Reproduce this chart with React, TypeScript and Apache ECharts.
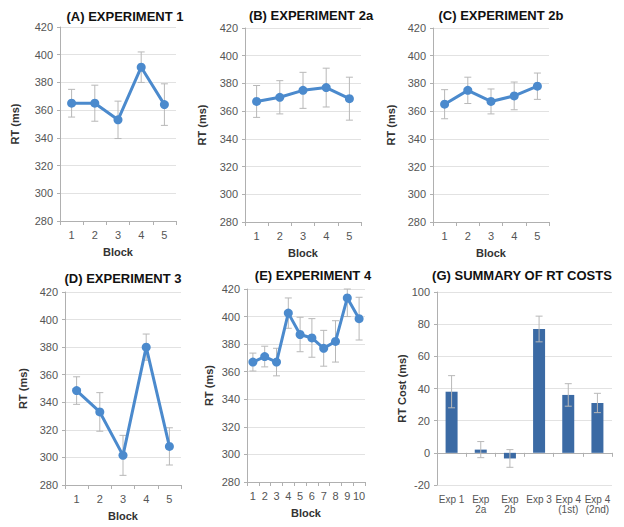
import React, { useEffect, useRef } from "react";
import * as echarts from "echarts";

const blocks5 = ["1", "2", "3", "4", "5"];
const blocks10 = ["1", "2", "3", "4", "5", "6", "7", "8", "9", "10"];

const rtA = [365, 365, 353, 391, 364];
const errA = [10, 13, 13.5, 11, 15];
const rtB = [367, 370, 375, 377, 369];
const errB = [11.5, 12, 13, 14, 15.5];
const rtC = [365, 375, 367, 371, 378];
const errC = [10.5, 9.5, 9, 10, 9.5];
const rtD = [348.5, 333, 301.5, 380, 308];
const errD = [10, 14, 14.5, 9.5, 13.5];
const rtE = [367, 371, 367, 402.5, 387, 384.5, 377, 382, 413.5, 398.5];
const errE = [6.5, 7.5, 10, 11, 12.5, 14, 13, 15, 13.5, 15.5];

const summaryCats = ["Exp 1", "Exp\n2a", "Exp\n2b", "Exp 3", "Exp 4\n(1st)", "Exp 4\n(2nd)"];
const costG = [38, 2, -3.5, 77, 36, 31];
const errG = [10, 5, 5.5, 8, 7, 6];

const rtTicks = { min: 280, max: 420, interval: 20 };
const costTicks = { min: -20, max: 100, interval: 20 };

const titles = [
  { text: "(A) EXPERIMENT 1", x: 125, y: 16 },
  { text: "(B) EXPERIMENT 2a", x: 311, y: 15 },
  { text: "(C) EXPERIMENT 2b", x: 501, y: 15 },
  { text: "(D) EXPERIMENT 3", x: 123, y: 278 },
  { text: "(E) EXPERIMENT 4", x: 313, y: 275 },
  { text: "(G) SUMMARY OF RT COSTS", x: 522, y: 275 },
];

const FONT = "Arial, 'Liberation Sans', sans-serif";
const LINE_COLOR = "#4b8acd";
const BAR_COLOR = "#3b6aa4";
const ERR_COLOR = "#b8b8b8";
const AXIS_COLOR = "#b0b0b0";
const GRID_COLOR = "#e2e2e2";
const LABEL_COLOR = "#555555";

function errorRender(params: any, api: any) {
  const x = api.value(0);
  const lo = api.value(1);
  const hi = api.value(2);
  const pLo = api.coord([x, lo]);
  const pHi = api.coord([x, hi]);
  const cs = params.coordSys;
  const top = Math.max(pHi[1], cs.y);
  const bot = Math.min(pLo[1], cs.y + cs.height);
  const hw = 3.5;
  const style = { stroke: ERR_COLOR, lineWidth: 1 };
  return {
    type: "group",
    children: [
      { type: "line", shape: { x1: pHi[0], y1: top, x2: pLo[0], y2: bot }, style },
      { type: "line", shape: { x1: pHi[0] - hw, y1: top, x2: pHi[0] + hw, y2: top }, style },
      { type: "line", shape: { x1: pLo[0] - hw, y1: bot, x2: pLo[0] + hw, y2: bot }, style },
    ],
  };
}

export default function App() {
  const ref = useRef<HTMLDivElement>(null);
  useEffect(() => {
    if (!ref.current) return;
    const chart = echarts.init(ref.current, null, { renderer: "svg" });

    const panels = [
      { cats: blocks5, vals: rtA, errs: errA, grid: { left: 60, top: 27, width: 116, height: 194 }, nameGap: 40, yName: "RT (ms)", ticks: rtTicks, bar: false },
      { cats: blocks5, vals: rtB, errs: errB, grid: { left: 245, top: 28, width: 116, height: 194 }, nameGap: 38, yName: "RT (ms)", ticks: rtTicks, bar: false },
      { cats: blocks5, vals: rtC, errs: errC, grid: { left: 433, top: 28, width: 116, height: 194 }, nameGap: 37, yName: "RT (ms)", ticks: rtTicks, bar: false },
      { cats: blocks5, vals: rtD, errs: errD, grid: { left: 65, top: 292, width: 116, height: 193 }, nameGap: 37, yName: "RT (ms)", ticks: rtTicks, bar: false },
      { cats: blocks10, vals: rtE, errs: errE, grid: { left: 247, top: 289, width: 118, height: 193 }, nameGap: 33, yName: "RT (ms)", ticks: rtTicks, bar: false },
      { cats: summaryCats, vals: costG, errs: errG, grid: { left: 437, top: 292, width: 175, height: 193 }, nameGap: 27, yName: "RT Cost (ms)", ticks: costTicks, bar: true },
    ];

    const grid: any[] = [];
    const xAxis: any[] = [];
    const yAxis: any[] = [];
    const series: any[] = [];

    panels.forEach((p, i) => {
      grid.push({ ...p.grid, containLabel: false });
      const axisIdx = xAxis.length;
      xAxis.push({
        type: "category",
        gridIndex: i,
        data: p.cats,
        name: p.bar ? "" : "Block",
        nameLocation: "middle",
        nameGap: 25,
        nameTextStyle: { fontFamily: FONT, fontWeight: "bold", fontSize: 11, color: "#333" },
        axisLine: { onZero: p.bar, lineStyle: { color: AXIS_COLOR, width: 1 } },
        axisTick: { show: true, alignWithLabel: false, length: 4, lineStyle: { color: AXIS_COLOR } },
        axisLabel: {
          show: !p.bar,
          interval: 0,
          margin: 8,
          fontFamily: FONT,
          fontSize: 11,
          color: LABEL_COLOR,
        },
        splitLine: { show: false },
      });
      if (p.bar) {
        xAxis.push({
          type: "category",
          gridIndex: i,
          position: "bottom",
          data: p.cats,
          axisLine: { show: false, onZero: false },
          axisTick: { show: false },
          axisLabel: {
            show: true,
            interval: 0,
            margin: 9,
            fontFamily: FONT,
            fontSize: 10,
            lineHeight: 10,
            color: LABEL_COLOR,
          },
          splitLine: { show: false },
        });
      }
      yAxis.push({
        type: "value",
        gridIndex: i,
        min: p.ticks.min,
        max: p.ticks.max,
        interval: p.ticks.interval,
        name: p.yName,
        nameLocation: "middle",
        nameGap: p.nameGap,
        nameRotate: 90,
        nameTextStyle: { fontFamily: FONT, fontWeight: "bold", fontSize: 11, color: "#333" },
        axisLine: { show: true, lineStyle: { color: AXIS_COLOR, width: 1 } },
        axisTick: { show: true, length: 3, lineStyle: { color: AXIS_COLOR } },
        axisLabel: { margin: 7, fontFamily: FONT, fontSize: 11, color: LABEL_COLOR },
        splitLine: { show: true, lineStyle: { color: GRID_COLOR, width: 1 } },
      });

      const errData = p.vals.map((v, k) => [k, v - p.errs[k], v + p.errs[k]]);
      if (p.bar) {
        series.push({
          type: "bar",
          xAxisIndex: axisIdx,
          yAxisIndex: i,
          data: p.vals,
          barWidth: 12,
          itemStyle: { color: BAR_COLOR },
          z: 2,
        });
        series.push({
          type: "custom",
          xAxisIndex: axisIdx,
          yAxisIndex: i,
          data: errData,
          renderItem: errorRender,
          z: 3,
        });
      } else {
        series.push({
          type: "custom",
          xAxisIndex: axisIdx,
          yAxisIndex: i,
          data: errData,
          renderItem: errorRender,
          z: 1,
        });
        series.push({
          type: "line",
          xAxisIndex: axisIdx,
          yAxisIndex: i,
          data: p.vals,
          symbol: "circle",
          symbolSize: 9,
          lineStyle: { color: LINE_COLOR, width: 3 },
          itemStyle: { color: LINE_COLOR },
          z: 3,
        });
      }
    });

    chart.setOption({
      animation: false,
      backgroundColor: "#ffffff",
      grid,
      xAxis,
      yAxis,
      series,
      graphic: titles.map((t) => ({
        type: "text",
        x: t.x,
        y: t.y,
        style: {
          text: t.text,
          textAlign: "center",
          textVerticalAlign: "middle",
          fontFamily: FONT,
          fontWeight: "bold",
          fontSize: 13,
          fill: "#111",
        },
      })),
    });
    return () => chart.dispose();
  }, []);

  return (
    <div
      ref={ref}
      style={{ position: "fixed", left: 0, top: 0, width: 624, height: 527, background: "#fff" }}
    />
  );
}
